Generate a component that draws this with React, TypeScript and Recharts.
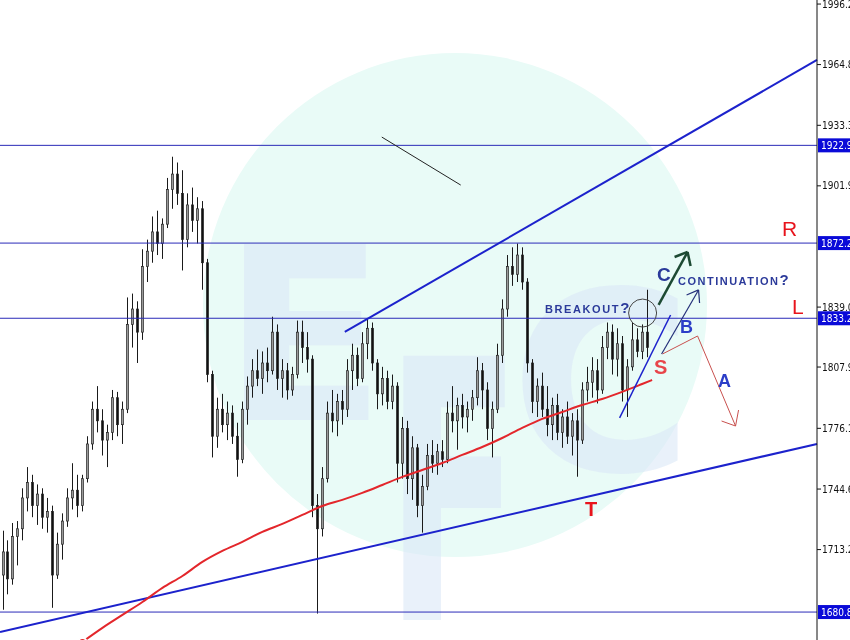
import React from 'react';
import { ComposedChart, Bar, Line, XAxis, YAxis, ReferenceLine, ReferenceDot } from 'recharts';

// candles, [open, high, low, close]
const candles = [
  [1700, 1723, 1682, 1712], [1712, 1718, 1690, 1698], [1698, 1727, 1695, 1720], [1720, 1728, 1705, 1724],
  [1724, 1745, 1718, 1740], [1740, 1756, 1733, 1748], [1748, 1752, 1730, 1736], [1736, 1747, 1726, 1742],
  [1742, 1745, 1724, 1730], [1730, 1740, 1722, 1733], [1733, 1736, 1683, 1700], [1700, 1722, 1698, 1716],
  [1716, 1732, 1708, 1728], [1728, 1745, 1725, 1740], [1740, 1758, 1734, 1744], [1744, 1752, 1730, 1736],
  [1736, 1752, 1733, 1750], [1750, 1772, 1748, 1768], [1768, 1790, 1765, 1786], [1786, 1798, 1774, 1780],
  [1780, 1786, 1762, 1770], [1770, 1778, 1756, 1774], [1774, 1796, 1770, 1792], [1792, 1795, 1772, 1778],
  [1778, 1790, 1768, 1786], [1786, 1844, 1784, 1830], [1830, 1846, 1818, 1838], [1838, 1842, 1810, 1826],
  [1826, 1869, 1822, 1860], [1860, 1874, 1852, 1868], [1868, 1886, 1862, 1878], [1878, 1889, 1866, 1872],
  [1872, 1885, 1864, 1882], [1882, 1906, 1880, 1900], [1900, 1917, 1890, 1908], [1908, 1914, 1892, 1898],
  [1898, 1910, 1858, 1874], [1874, 1898, 1870, 1892], [1892, 1901, 1878, 1884], [1884, 1896, 1872, 1890],
  [1890, 1894, 1848, 1862], [1862, 1864, 1800, 1804], [1804, 1806, 1761, 1772], [1772, 1792, 1766, 1786],
  [1786, 1794, 1774, 1778], [1778, 1790, 1770, 1784], [1784, 1788, 1768, 1772], [1772, 1779, 1751, 1760],
  [1760, 1790, 1758, 1786], [1786, 1803, 1778, 1798], [1798, 1812, 1792, 1806], [1806, 1817, 1798, 1802],
  [1802, 1816, 1794, 1810], [1810, 1818, 1800, 1806], [1806, 1834, 1804, 1826], [1826, 1830, 1796, 1802],
  [1802, 1812, 1792, 1806], [1806, 1810, 1791, 1796], [1796, 1808, 1793, 1804], [1804, 1832, 1802, 1826],
  [1826, 1832, 1810, 1818], [1818, 1826, 1805, 1812], [1812, 1814, 1730, 1736], [1736, 1742, 1680, 1724],
  [1724, 1756, 1720, 1750], [1750, 1790, 1748, 1784], [1784, 1796, 1774, 1780], [1780, 1794, 1772, 1790],
  [1790, 1796, 1778, 1786], [1786, 1812, 1782, 1806], [1806, 1820, 1796, 1814], [1814, 1818, 1798, 1802],
  [1802, 1826, 1800, 1820], [1820, 1833, 1812, 1828], [1828, 1831, 1806, 1810], [1810, 1812, 1786, 1794],
  [1794, 1808, 1788, 1802], [1802, 1806, 1786, 1790], [1790, 1804, 1786, 1798], [1798, 1800, 1748, 1758],
  [1758, 1782, 1750, 1776], [1776, 1780, 1742, 1750], [1750, 1772, 1739, 1766], [1766, 1768, 1730, 1736],
  [1736, 1752, 1722, 1746], [1746, 1768, 1744, 1762], [1762, 1770, 1753, 1758], [1758, 1768, 1752, 1764],
  [1764, 1770, 1756, 1760], [1760, 1790, 1758, 1784], [1784, 1798, 1774, 1780], [1780, 1792, 1765, 1788],
  [1788, 1794, 1776, 1782], [1782, 1790, 1774, 1786], [1786, 1796, 1780, 1792], [1792, 1813, 1788, 1806],
  [1806, 1810, 1786, 1796], [1796, 1800, 1770, 1776], [1776, 1790, 1761, 1786], [1786, 1820, 1784, 1814],
  [1814, 1843, 1810, 1838], [1838, 1866, 1834, 1860], [1860, 1870, 1850, 1856], [1856, 1872, 1852, 1866],
  [1866, 1870, 1848, 1852], [1852, 1854, 1805, 1810], [1810, 1812, 1784, 1790], [1790, 1802, 1782, 1798],
  [1798, 1805, 1782, 1786], [1786, 1798, 1772, 1778], [1778, 1792, 1770, 1788], [1788, 1794, 1770, 1774],
  [1774, 1786, 1766, 1782], [1782, 1790, 1768, 1772], [1772, 1784, 1762, 1780], [1780, 1786, 1751, 1770],
  [1770, 1800, 1768, 1796], [1796, 1808, 1790, 1800], [1800, 1813, 1792, 1806], [1806, 1812, 1789, 1796],
  [1796, 1824, 1794, 1818], [1818, 1831, 1812, 1826], [1826, 1830, 1804, 1812], [1812, 1828, 1803, 1820],
  [1820, 1824, 1790, 1796], [1796, 1812, 1782, 1808], [1808, 1831, 1806, 1822], [1822, 1828, 1813, 1816],
  [1816, 1830, 1812, 1826], [1826, 1848, 1813, 1818],
];

// moving average, [bar index, value]
const maPoints = [
  [16, 1665.3], [20, 1672.6], [24, 1679.3], [28, 1686.0], [32, 1693.3], [36, 1699.5], [40, 1706.8],
  [44, 1712.5], [48, 1717.2], [52, 1722.4], [56, 1726.5], [60, 1731.2], [64, 1735.8], [68, 1739.0],
  [72, 1742.6], [76, 1746.7], [80, 1750.9], [84, 1754.5], [88, 1758.1], [92, 1762.3], [96, 1766.4],
  [100, 1771.1], [104, 1776.3], [108, 1781.0], [112, 1784.6], [116, 1788.2], [120, 1791.3],
  [124, 1795.0], [128, 1799.1], [130, 1801.2],
];

const priceTicks = [1996.2, 1964.8, 1933.3, 1901.9, 1839.0, 1807.9, 1776.1, 1744.6, 1713.2];
const levels = [1922.9, 1872.2, 1833.2, 1680.8];

// trend lines and arrows, [[i1, p1], [i2, p2]]
const blueTrends = [
  [[68.5, 1826.1], [163, 1967.2]],
  [[-0.5, 1670.5], [163, 1768.0]],
];
const smallBlue = [[123.5, 1781.5], [133.7, 1834.9]];
const blackLine = [[75.9, 1927.2], [91.7, 1902.3]];
const arrowC = [
  [[131.3, 1840.1], [137.1, 1867.6]],
  [[134.5, 1865.0], [137.1, 1867.6]],
  [[137.7, 1860.3], [137.1, 1867.6]],
];
const arrowB = [
  [[131.9, 1814.7], [139.3, 1847.9]],
  [[136.9, 1845.3], [139.3, 1847.9]],
  [[139.5, 1841.1], [139.3, 1847.9]],
];
const arrowA = [
  [[132.1, 1814.7], [139.1, 1824.0]],
  [[139.1, 1824.0], [146.7, 1777.3]],
  [[143.9, 1779.9], [146.7, 1777.3]],
  [[147.3, 1785.6], [146.7, 1777.3]],
];
const circleAt = [128.1, 1835.9];

const data = candles.map((c, i) => ({ i, o: c[0], h: c[1], l: c[2], c: c[3], range: [c[2], c[1]] }));
const maData = maPoints.map(([i, v]) => ({ i, ma: v }));

const Candle = (props: any) => {
  const { x, y, width, height, payload } = props;
  const top = Math.min(y, y + height);
  const bot = Math.max(y, y + height);
  const k = payload.h === payload.l ? 0 : (bot - top) / (payload.h - payload.l);
  const yo = top + (payload.h - payload.o) * k;
  const yc = top + (payload.h - payload.c) * k;
  const cx = Math.round(x + width / 2) + 0.5;
  const bull = payload.c >= payload.o;
  return (
    <g>
      <line x1={cx} x2={cx} y1={top} y2={bot} stroke="#1a1a1a" strokeWidth={1} />
      <rect
        x={cx - 1}
        y={Math.min(yo, yc)}
        width={2}
        height={Math.max(1, Math.abs(yc - yo))}
        fill={bull ? '#9a9a9a' : '#111'}
        stroke="#222"
        strokeWidth={0.7}
      />
    </g>
  );
};

const PriceTag = ({ viewBox, text }: any) => {
  const x = viewBox.x + viewBox.width + 1;
  const y = viewBox.y;
  return (
    <g>
      <rect x={x} y={y - 7} width={40} height={14} fill="#0a0ad8" />
      <text x={x + 3} y={y + 4} fill="#fff" fontSize={10} fontFamily="DejaVu Sans Condensed, Liberation Sans">{text}</text>
    </g>
  );
};

const seg = (s: number[][]) => [{ x: s[0][0], y: s[0][1] }, { x: s[1][0], y: s[1][1] }];

export default function App() {
  return (
    <div style={{ position: 'relative', width: 850, height: 640, overflow: 'hidden', background: '#fff' }}>
      <style>{'body{margin:0}'}</style>
      <svg width={850} height={640} style={{ position: 'absolute', left: 0, top: 0 }}>
        <circle cx={455} cy={305} r={252} fill="#e9fbf7" />
        <g fill="#dbe8f7" opacity={0.6} fontWeight="bold" fontFamily="DejaVu Sans">
          <text x={222} y={420} fontSize={240}>E</text>
          <text x={385} y={620} fontSize={250} transform="translate(385 620) scale(0.8 1.45) translate(-385 -620)">F</text>
          <text x={510} y={470} fontSize={250}>C</text>
        </g>
      </svg>
      <div style={{ position: 'absolute', left: 0, top: 0 }}>
        <ComposedChart width={850} height={640} data={data} margin={{ top: 0, right: 0, bottom: 0, left: 0 }}>
          <XAxis dataKey="i" type="number" domain={[-0.5, 163]} hide allowDataOverflow />
          <YAxis
            orientation="right"
            width={33}
            domain={[1666.3, 1998.3]}
            allowDataOverflow
            ticks={priceTicks}
            interval={0}
            tickFormatter={(v: number) => v.toFixed(1)}
            tick={{ fontSize: 10, fill: '#111', fontFamily: 'DejaVu Sans Condensed, Liberation Sans' }}
            tickSize={4}
            tickMargin={1}
            stroke="#111"
          />
          {levels.map((v) => (
            <ReferenceLine
              key={v}
              y={v}
              stroke="#2a2ab8"
              strokeWidth={1}
              label={(p: any) => <PriceTag viewBox={p.viewBox} text={v.toFixed(1)} />}
            />
          ))}
          {blueTrends.map((s, k) => (
            <ReferenceLine key={'t' + k} segment={seg(s)} stroke="#1c22cc" strokeWidth={2} />
          ))}
          <ReferenceLine segment={seg(blackLine)} stroke="#222" strokeWidth={1} />
          <Line data={maData} dataKey="ma" type="monotone" stroke="#e3262b" strokeWidth={2} dot={false} isAnimationActive={false} />
          <Bar dataKey="range" barSize={3} shape={Candle} isAnimationActive={false} />
          <ReferenceLine segment={seg(smallBlue)} stroke="#1c22cc" strokeWidth={1.5} />
          {arrowC.map((s, k) => (
            <ReferenceLine key={'c' + k} segment={seg(s)} stroke="#1d4a33" strokeWidth={2.5} />
          ))}
          {arrowB.map((s, k) => (
            <ReferenceLine key={'b' + k} segment={seg(s)} stroke="#24307a" strokeWidth={1.2} />
          ))}
          {arrowA.map((s, k) => (
            <ReferenceLine key={'a' + k} segment={seg(s)} stroke="#c8504e" strokeWidth={1} />
          ))}
          <ReferenceDot x={circleAt[0]} y={circleAt[1]} r={14} fill="none" stroke="#444" strokeWidth={1} />
        </ComposedChart>
      </div>
      <svg width={850} height={640} style={{ position: 'absolute', left: 0, top: 0, pointerEvents: 'none' }}>
        <g fontFamily="Liberation Sans, Arial">
          <text x={782} y={236} fontSize={21} fill="#e8141c">R</text>
          <text x={792} y={314} fontSize={21} fill="#e8141c">L</text>
          <text x={654} y={374} fontSize={20} fill="#e8454a" fontWeight="bold">S</text>
          <text x={585} y={516} fontSize={20} fill="#e8141c" fontWeight="bold">T</text>
          <text x={718} y={387} fontSize={18} fill="#2c3ec8" fontWeight="bold">A</text>
          <text x={680} y={333} fontSize={18} fill="#2c3ec8" fontWeight="bold">B</text>
          <text x={657} y={281} fontSize={19} fill="#2a3a9a" fontWeight="bold">C</text>
          <text x={545} y={313} fontSize={11} fill="#2b3a9a" fontWeight="bold" letterSpacing={1.6}>
            BREAKOUT<tspan fontSize={15}>?</tspan>
          </text>
          <text x={678} y={285} fontSize={11} fill="#2b3a9a" fontWeight="bold" letterSpacing={1.5}>
            CONTINUATION<tspan fontSize={15}>?</tspan>
          </text>
        </g>
      </svg>
    </div>
  );
}
